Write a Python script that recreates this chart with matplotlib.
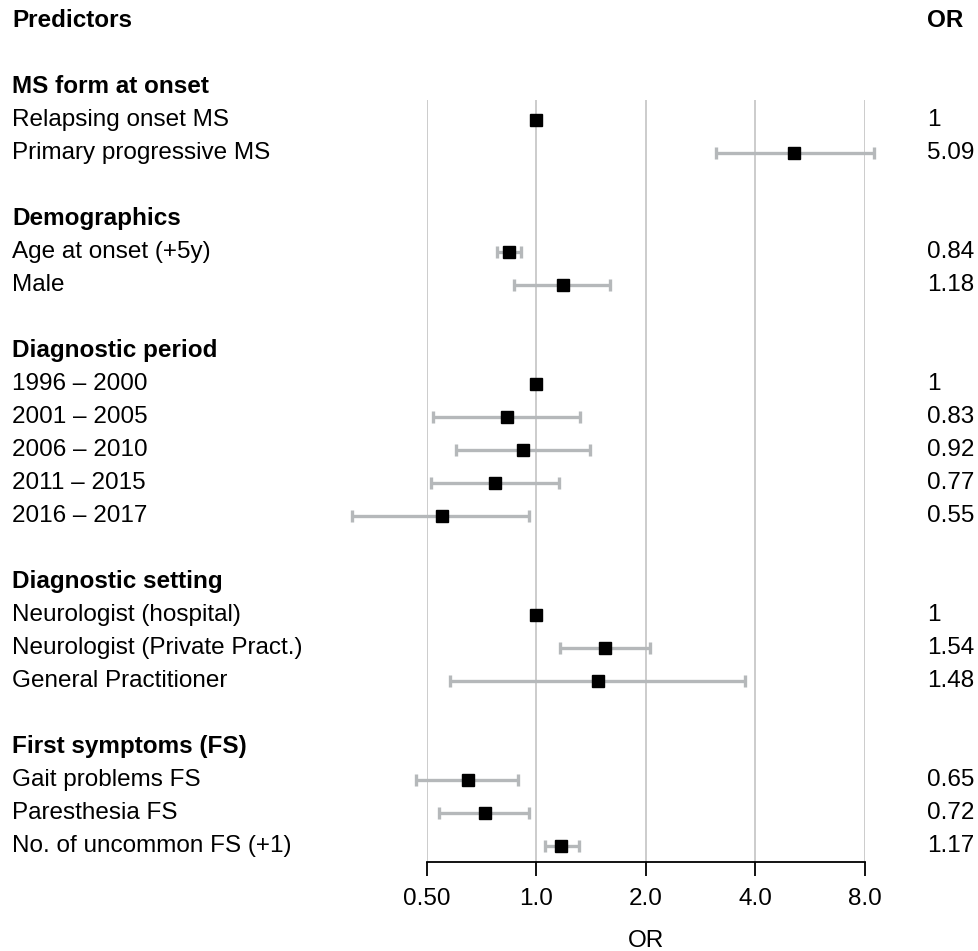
import numpy as np
import matplotlib
matplotlib.use("Agg")
import matplotlib.pyplot as plt
import matplotlib.transforms as mtransforms

plt.rcParams['font.family'] = ['Liberation Sans', 'DejaVu Sans']

# data
groups = ["MS form at onset", "Demographics", "Diagnostic period",
          "Diagnostic setting", "First symptoms (FS)"]
predictors = [
    ["Relapsing onset MS", "Primary progressive MS"],
    ["Age at onset (+5y)", "Male"],
    ["1996 \u2013 2000", "2001 \u2013 2005", "2006 \u2013 2010", "2011 \u2013 2015", "2016 \u2013 2017"],
    ["Neurologist (hospital)", "Neurologist (Private Pract.)", "General Practitioner"],
    ["Gait problems FS", "Paresthesia FS", "No. of uncommon FS (+1)"],
]
odds = [
    [1, 5.09],
    [0.84, 1.18],
    [1, 0.83, 0.92, 0.77, 0.55],
    [1, 1.54, 1.48],
    [0.65, 0.72, 1.17],
]
lower = [
    [np.nan, 3.11],
    [0.78, 0.865],
    [np.nan, 0.52, 0.60, 0.513, 0.312],
    [np.nan, 1.16, 0.58],
    [0.467, 0.54, 1.053],
]
upper = [
    [np.nan, 8.47],
    [0.906, 1.595],
    [np.nan, 1.316, 1.40, 1.154, 0.952],
    [np.nan, 2.055, 3.74],
    [0.891, 0.952, 1.307],
]
or_labels = [
    ["1", "5.09"],
    ["0.84", "1.18"],
    ["1", "0.83", "0.92", "0.77", "0.55"],
    ["1", "1.54", "1.48"],
    ["0.65", "0.72", "1.17"],
]
xticks = [0.5, 1, 2, 4, 8]
xticklabels = ["0.50", "1.0", "2.0", "4.0", "8.0"]

FS = 17.5
W, H = 979, 951
fig = plt.figure(figsize=(W / 100, H / 100), dpi=100)
ax = fig.add_axes([427 / W, 1 - 862 / H, 438 / W, (862 - 100) / H])

# rows: 0 = column header, then blank, then each group header + items + blank
rows = []
r = 2
for gi, g in enumerate(groups):
    rows.append((r, g, True, None, None, None, None))
    r += 1
    for pi, p in enumerate(predictors[gi]):
        rows.append((r, p, False, odds[gi][pi], lower[gi][pi], upper[gi][pi], or_labels[gi][pi]))
        r += 1
    r += 1

ax.set_xscale('log', base=2)
ax.set_xlim(0.5, 8)
ax.set_ylim(25.5, 2.4)

ys = np.array([row[0] for row in rows if not row[2]])
ors = np.array([row[3] for row in rows if not row[2]])
los = np.array([row[4] for row in rows if not row[2]])
his = np.array([row[5] for row in rows if not row[2]])
has_ci = ~np.isnan(los)

ax.errorbar(ors[has_ci], ys[has_ci],
            xerr=[ors[has_ci] - los[has_ci], his[has_ci] - ors[has_ci]],
            fmt='none', ecolor='#b5b8ba', elinewidth=2.4, capsize=4,
            capthick=2.4, clip_on=False, zorder=3)
ax.plot(ors, ys, 's', color='black', markersize=9, zorder=4, clip_on=False)

ax.set_xticks(xticks)
ax.set_xticklabels(xticklabels, fontsize=FS)
ax.minorticks_off()
ax.set_yticks([])
ax.grid(axis='x', color='#c8c8c8', linewidth=1.3, zorder=0)
ax.set_axisbelow(True)
for s in ['top', 'left', 'right']:
    ax.spines[s].set_visible(False)
ax.spines['bottom'].set_linewidth(1.3)
ax.tick_params(axis='x', length=10, width=1.3, pad=9)
ax.set_xlabel("OR", fontsize=FS, labelpad=14)

trans = mtransforms.blended_transform_factory(fig.transFigure, ax.transData)
x_left = 12 / W
x_right = 927 / W
ax.text(x_left, 0, "Predictors", transform=trans, fontsize=FS, fontweight='bold',
        va='center', ha='left', clip_on=False)
ax.text(x_right, 0, "OR", transform=trans, fontsize=FS, fontweight='bold',
        va='center', ha='left', clip_on=False)
for (y, lab, head, o, lo, hi, olab) in rows:
    ax.text(x_left, y, lab, transform=trans, fontsize=FS,
            fontweight='bold' if head else 'normal', va='center', ha='left', clip_on=False)
    if not head:
        ax.text(x_right, y, olab, transform=trans, fontsize=FS, va='center', ha='left',
                clip_on=False)

fig.savefig("out.png", dpi=100)
